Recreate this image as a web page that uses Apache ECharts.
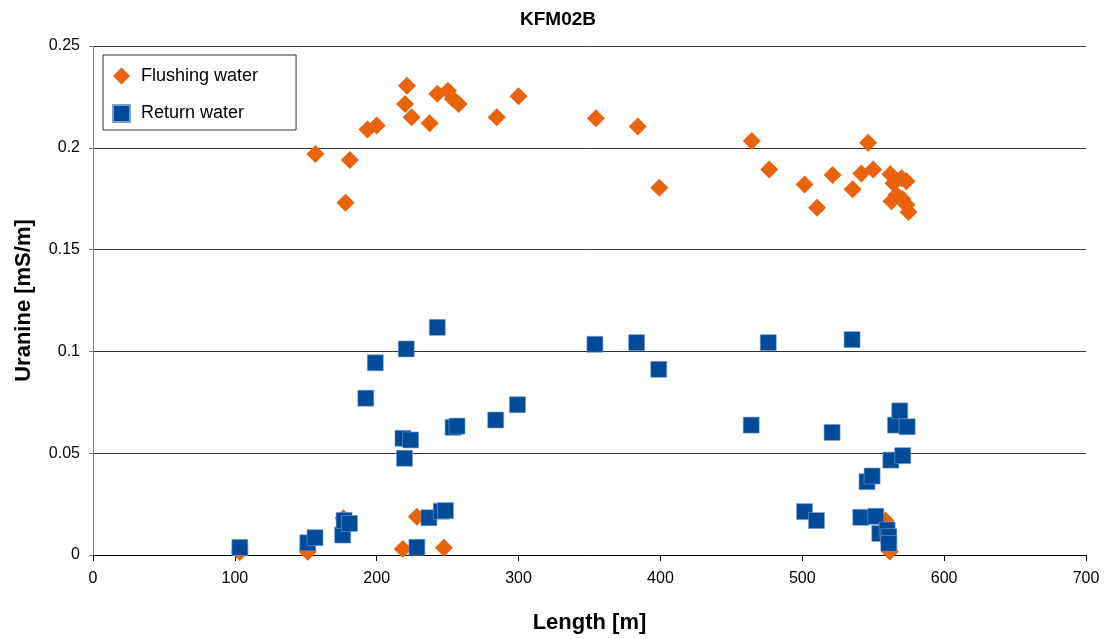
<!DOCTYPE html>
<html>
<head>
<meta charset="utf-8">
<script src="https://cdn.jsdelivr.net/npm/echarts@6/dist/echarts.min.js"></script>
<style>
  html, body { margin: 0; padding: 0; background: #fff; }
  #chart { width: 1108px; height: 639px; }
</style>
</head>
<body>
<div id="chart"></div>
<script>
// Length [m], Uranine [mS/m]
var flushingWater = [
    [103.5, 0.0015], [151.4, 0.0016], [156.8, 0.197], [176.6, 0.018], [178, 0.173],
    [181, 0.194], [193.5, 0.209], [200, 0.211], [218.4, 0.003], [220, 0.2215],
    [221.3, 0.2305], [224.6, 0.215], [228.3, 0.0188], [237.3, 0.212], [242.7, 0.2265],
    [247.4, 0.0036], [250.2, 0.228], [253.7, 0.224], [257.8, 0.2215], [284.6, 0.215],
    [300, 0.2253], [354.5, 0.2145], [384, 0.2105], [399.2, 0.1804], [464.4, 0.2033],
    [476.7, 0.1894], [501.6, 0.182], [510.4, 0.1705], [521.4, 0.1866], [535.5, 0.1797],
    [541.6, 0.1874], [546.4, 0.2025], [550, 0.1894], [558.6, 0.017], [561.7, 0.0017],
    [562.1, 0.187], [564.3, 0.1826], [562.9, 0.1738], [566.4, 0.1768], [570, 0.185],
    [573.4, 0.1836], [570.6, 0.1748], [573.4, 0.172], [574.9, 0.1685]
];
var returnWater = [
    [103.5, 0.0037], [151.4, 0.006], [156.5, 0.0085], [176, 0.0098], [177, 0.017],
    [180.8, 0.0155], [192.3, 0.077], [199, 0.0944], [218.5, 0.0573], [219.6, 0.0475],
    [220.8, 0.1012], [223.9, 0.0565], [228.3, 0.0038], [236.8, 0.0183], [242.7, 0.1118],
    [245.5, 0.0215], [248.5, 0.0218], [253.8, 0.0627], [256.6, 0.0633], [283.9, 0.0663],
    [299.2, 0.0738], [353.8, 0.1035], [383.2, 0.1043], [398.8, 0.0912], [464, 0.0638],
    [476, 0.1043], [501.6, 0.0213], [510, 0.0169], [521, 0.0602], [535.1, 0.1058],
    [541.2, 0.0185], [545.6, 0.036], [549.2, 0.0388], [551.8, 0.019], [554.6, 0.0106],
    [559.8, 0.0123], [561, 0.009], [561, 0.0057], [562.4, 0.0466], [565.7, 0.0638],
    [568.7, 0.0708], [570.8, 0.0488], [573.9, 0.063]
];
var seriesNames = ['Flushing water', 'Return water'];
var seriesColors = ['#E9620C', '#004A9A'];

var myChart = echarts.init(document.getElementById('chart'));
var option = {
    animation: false,
    textStyle: { fontFamily: 'Liberation Sans, Arial, sans-serif' },
    title: {
        text: 'KFM02B',
        top: 5,
        left: 553,
        textAlign: 'center',
        textStyle: { fontSize: 19, fontWeight: 'bold', color: '#000' }
    },
    legend: {
        data: seriesNames,
        orient: 'vertical',
        left: 103,
        top: 55,
        borderColor: '#333',
        borderWidth: 1,
        padding: [12, 38, 7, 9],
        itemGap: 19,
        itemWidth: 17,
        itemHeight: 17,
        textStyle: { fontSize: 18, color: '#000', padding: [0, 0, 0, 6] }
    },
    grid: {
        left: 93,
        right: 22,
        top: 46,
        bottom: 84,
        outerBoundsMode: 'none'
    },
    xAxis: {
        type: 'value',
        min: 0,
        max: 700,
        interval: 100,
        name: 'Length [m]',
        nameLocation: 'middle',
        nameGap: 57,
        nameTextStyle: { fontSize: 22, fontWeight: 'bold', color: '#000' },
        axisLine: { show: true, lineStyle: { color: '#000', width: 1 } },
        axisTick: { show: true, length: 6, lineStyle: { color: '#000' } },
        axisLabel: { fontSize: 16, color: '#000', margin: 16 },
        splitLine: { show: false }
    },
    yAxis: {
        type: 'value',
        min: 0,
        max: 0.25,
        interval: 0.05,
        name: 'Uranine [mS/m]',
        nameLocation: 'middle',
        nameGap: 58,
        nameTextStyle: { fontSize: 22, fontWeight: 'bold', color: '#000' },
        axisLine: { show: true, lineStyle: { color: '#808080', width: 1 } },
        axisTick: { show: true, length: 4, lineStyle: { color: '#808080' } },
        axisLabel: { fontSize: 16, color: '#000', margin: 13 },
        splitLine: { show: true, lineStyle: { color: '#333', width: 1 } }
    },
    series: [
        {
            name: seriesNames[0],
            type: 'scatter',
            symbol: 'diamond',
            symbolSize: 18,
            data: flushingWater,
            itemStyle: { color: seriesColors[0], opacity: 1 }
        },
        {
            name: seriesNames[1],
            type: 'scatter',
            symbol: 'rect',
            symbolSize: 16,
            data: returnWater,
            itemStyle: { color: seriesColors[1], opacity: 1, borderColor: '#7d9dc9', borderWidth: 0.6 }
        }
    ]
};
myChart.setOption(option);
window.addEventListener('resize', function () {
    myChart.resize();
});
</script>
</body>
</html>
